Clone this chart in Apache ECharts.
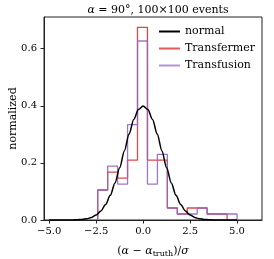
<!DOCTYPE html>
<html><head><meta charset="utf-8">
<script src="https://cdn.jsdelivr.net/npm/echarts@6/dist/echarts.min.js"></script>
<style>html,body{margin:0;padding:0;background:#fff}#c{width:274px;height:259px}</style>
</head><body><div id="c"></div>
<script>
// histogram bin edges (shared)
const binEdges = [-2.42, -1.89, -1.36, -0.83, -0.30, 0.23, 0.76, 1.29, 1.82, 2.35, 2.88, 3.41, 3.94, 4.47, 5.00];
const transfermer = [0.105, 0.168, 0.147, 0.210, 0.675, 0.210, 0.210, 0.042, 0.021, 0.042, 0.042, 0.021, 0.021];
const transfusion = [0.105, 0.189, 0.126, 0.334, 0.627, 0.126, 0.230, 0.042, 0.021, 0.021, 0.042, 0.021, 0.021, 0.021];
// normal curve read at x = -5 .. 5 step 0.25
const normalX = [-5,-4.75,-4.5,-4.25,-4,-3.75,-3.5,-3.25,-3,-2.75,-2.5,-2.25,-2,-1.75,-1.5,-1.25,-1,-0.75,-0.5,-0.25,0,0.25,0.5,0.75,1,1.25,1.5,1.75,2,2.25,2.5,2.75,3,3.25,3.5,3.75,4,4.25,4.5,4.75,5];
const normalY = [0,0,0,0,0.0001,0.0004,0.0009,0.002,0.0044,0.0091,0.0175,0.0317,0.054,0.0863,0.1295,0.1827,0.242,0.3011,0.3521,0.3867,0.3989,0.3867,0.3521,0.3011,0.242,0.1827,0.1295,0.0863,0.054,0.0317,0.0175,0.0091,0.0044,0.002,0.0009,0.0004,0.0001,0,0,0,0];
const xTicks = [-5, -2.5, 0, 2.5, 5];
const yTicks = [0, 0.2, 0.4, 0.6];

function stepPts(edges, h) {
  const p = [[edges[0], 0]];
  for (let i = 0; i < h.length; i++) {
    p.push([edges[i], h[i]]);
    p.push([edges[i + 1], h[i]]);
  }
  p.push([edges[h.length], 0]);
  return p;
}
const fmt = v => (v < 0 ? '\u2212' : '') + Math.abs(v).toFixed(1);
const FONT = 'DejaVu Serif';
const RED = '#d83434', PURPLE = '#9467bd';

const chart = echarts.init(document.getElementById('c'), null, {renderer: 'canvas'});
chart.setOption({
  animation: false,
  textStyle: {fontFamily: FONT},
  title: {
    text: '{i|α} = 90°, 100×100 events',
    left: 153, top: 0, textAlign: 'center',
    textStyle: {fontFamily: FONT, fontSize: 11, fontWeight: 'normal', color: '#000',
      rich: {i: {fontFamily: FONT, fontStyle: 'italic', fontSize: 11}}}
  },
  grid: {left: 44, right: 12, top: 17, bottom: 39, show: true, borderColor: '#222', borderWidth: 1,
         containLabel: false, outerBoundsMode: 'none'},
  legend: {
    orient: 'vertical', left: 154, top: 21, itemWidth: 21, itemHeight: 2, itemGap: 6,
    textStyle: {fontFamily: FONT, fontSize: 11, color: '#000'},
    data: [
      {name: 'normal', icon: 'rect', itemStyle: {color: '#000'}},
      {name: 'Transfermer', icon: 'rect', itemStyle: {color: '#e45858'}},
      {name: 'Transfusion', icon: 'rect', itemStyle: {color: '#b394d6'}}
    ]
  },
  xAxis: {
    type: 'value', min: -5.28, max: 6.33,
    name: '{p|(}{i|α} − {i|α}{s|truth}{p|)/}{i|σ}', nameLocation: 'middle', nameGap: 24, nameMoveOverlap: false,
    nameTextStyle: {fontFamily: FONT, fontSize: 11, color: '#000',
      rich: {p: {fontSize: 11}, i: {fontStyle: 'italic', fontSize: 11}, s: {fontSize: 8, padding: [6, 0, 0, 0]}}},
    axisLine: {show: true, onZero: false, lineStyle: {color: '#222', width: 1}},
    axisTick: {show: true, length: 3.5, inside: false, customValues: xTicks, lineStyle: {color: '#222'}},
    axisLabel: {customValues: xTicks, formatter: fmt, fontFamily: FONT, fontSize: 10, color: '#000', margin: 6},
    splitLine: {show: false}
  },
  yAxis: {
    type: 'value', min: 0, max: 0.711,
    name: 'normalized', nameLocation: 'middle', nameGap: 25, nameMoveOverlap: false,
    nameTextStyle: {fontFamily: FONT, fontSize: 11, color: '#000'},
    axisLine: {show: true, onZero: false, lineStyle: {color: '#222', width: 1}},
    axisTick: {show: true, length: 3.5, customValues: yTicks, lineStyle: {color: '#222'}},
    axisLabel: {customValues: yTicks, formatter: fmt, fontFamily: FONT, fontSize: 10, color: '#000', margin: 7},
    splitLine: {show: false}
  },
  series: [
    {name: 'Transfermer', type: 'line', data: stepPts(binEdges, transfermer), symbol: 'none',
     lineStyle: {color: RED, width: 1.3, opacity: 0.9}, itemStyle: {color: RED}, z: 2},
    {name: 'Transfusion', type: 'line', data: stepPts(binEdges, transfusion), symbol: 'none',
     lineStyle: {color: PURPLE, width: 1.3, opacity: 0.9}, itemStyle: {color: PURPLE}, z: 3},
    {name: 'normal', type: 'line', data: normalX.map((x, i) => [x, normalY[i]]), symbol: 'none',
     smooth: 0.3, smoothMonotone: 'x',
     lineStyle: {color: '#000', width: 1.5}, itemStyle: {color: '#000'}, z: 4}
  ]
});
</script></body></html>
